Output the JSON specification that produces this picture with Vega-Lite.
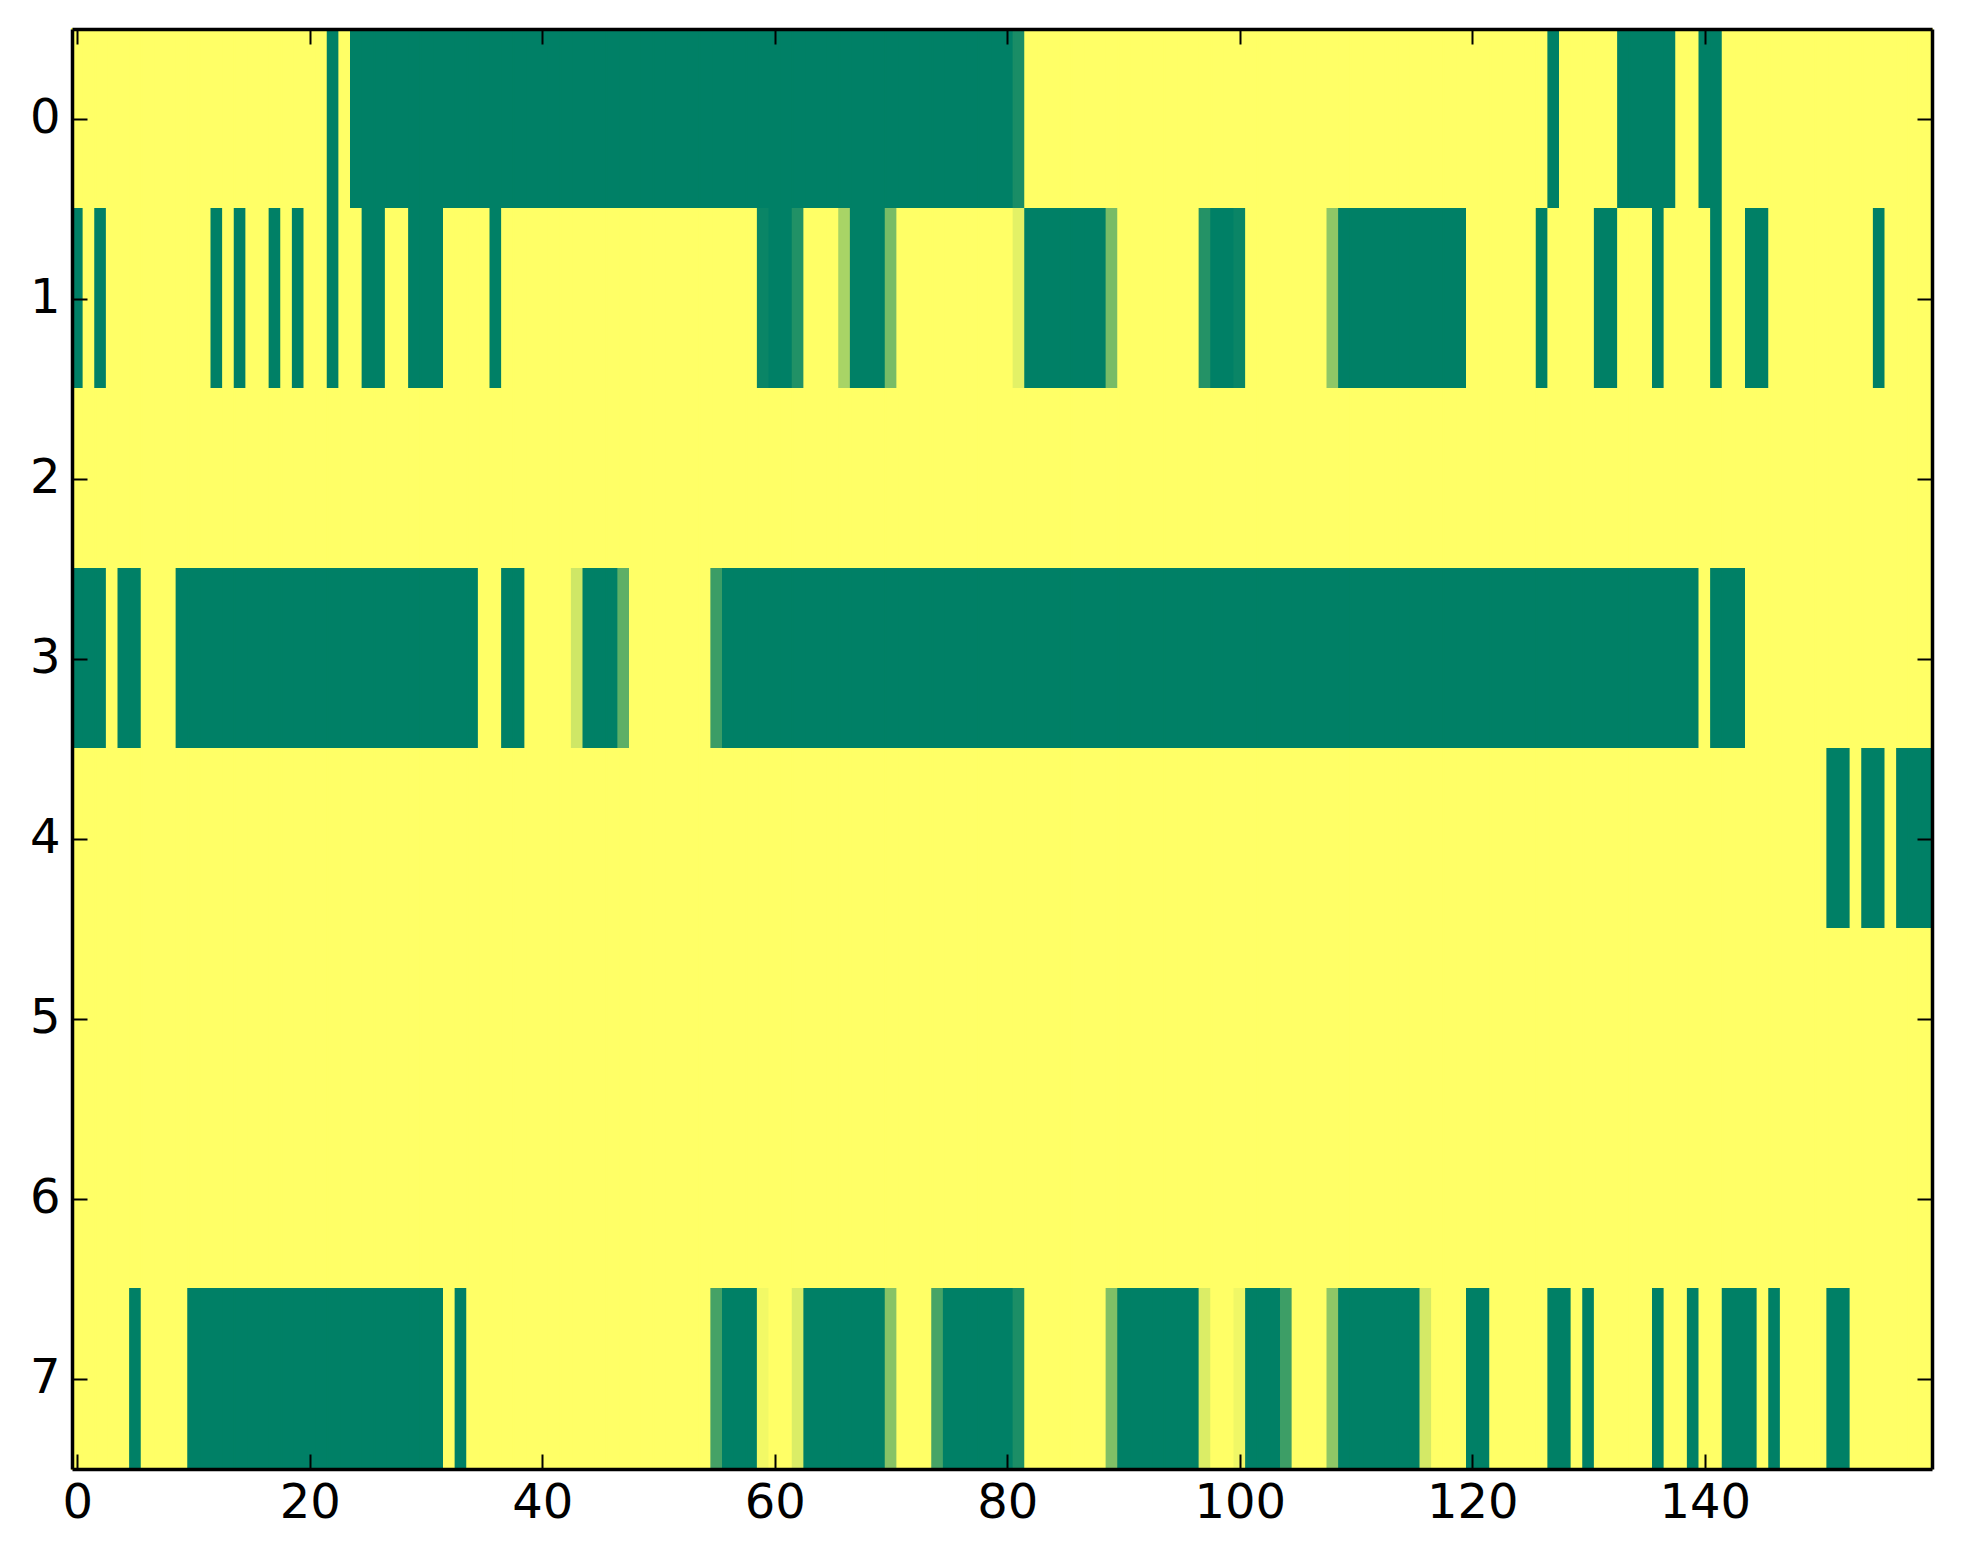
{
"$schema": "https://vega.github.io/schema/vega-lite/v6.json",
"width": 1860,
"height": 1440,
"autosize": {"type": "none"},
"padding": {"left": 72, "top": 29, "right": 31, "bottom": 95},
"background": "white",
"config": {
  "view": {"stroke": null},
  "font": "DejaVu Sans",
  "axis": {
    "title": null, "grid": false,
    "domain": true, "domainColor": "black", "domainWidth": 3.5,
    "ticks": true, "tickColor": "black", "tickWidth": 2, "tickSize": -15,
    "labelFont": "DejaVu Sans", "labelFontSize": 48, "labelColor": "black", "labelAngle": 0
  }
},
"data": {"values": [
{"r":0,"c":0,"v":1},{"r":0,"c":1,"v":1},{"r":0,"c":2,"v":1},{"r":0,"c":3,"v":1},{"r":0,"c":4,"v":1},{"r":0,"c":5,"v":1},{"r":0,"c":6,"v":1},{"r":0,"c":7,"v":1},{"r":0,"c":8,"v":1},{"r":0,"c":9,"v":1},
{"r":0,"c":10,"v":1},{"r":0,"c":11,"v":1},{"r":0,"c":12,"v":1},{"r":0,"c":13,"v":1},{"r":0,"c":14,"v":1},{"r":0,"c":15,"v":1},{"r":0,"c":16,"v":1},{"r":0,"c":17,"v":1},{"r":0,"c":18,"v":1},{"r":0,"c":19,"v":1},
{"r":0,"c":20,"v":1},{"r":0,"c":21,"v":1},{"r":0,"c":22,"v":0},{"r":0,"c":23,"v":1},{"r":0,"c":24,"v":0},{"r":0,"c":25,"v":0},{"r":0,"c":26,"v":0},{"r":0,"c":27,"v":0},{"r":0,"c":28,"v":0},{"r":0,"c":29,"v":0},
{"r":0,"c":30,"v":0},{"r":0,"c":31,"v":0},{"r":0,"c":32,"v":0},{"r":0,"c":33,"v":0},{"r":0,"c":34,"v":0},{"r":0,"c":35,"v":0},{"r":0,"c":36,"v":0},{"r":0,"c":37,"v":0},{"r":0,"c":38,"v":0},{"r":0,"c":39,"v":0},
{"r":0,"c":40,"v":0},{"r":0,"c":41,"v":0},{"r":0,"c":42,"v":0},{"r":0,"c":43,"v":0},{"r":0,"c":44,"v":0},{"r":0,"c":45,"v":0},{"r":0,"c":46,"v":0},{"r":0,"c":47,"v":0},{"r":0,"c":48,"v":0},{"r":0,"c":49,"v":0},
{"r":0,"c":50,"v":0},{"r":0,"c":51,"v":0},{"r":0,"c":52,"v":0},{"r":0,"c":53,"v":0},{"r":0,"c":54,"v":0},{"r":0,"c":55,"v":0},{"r":0,"c":56,"v":0},{"r":0,"c":57,"v":0},{"r":0,"c":58,"v":0},{"r":0,"c":59,"v":0},
{"r":0,"c":60,"v":0},{"r":0,"c":61,"v":0},{"r":0,"c":62,"v":0},{"r":0,"c":63,"v":0},{"r":0,"c":64,"v":0},{"r":0,"c":65,"v":0},{"r":0,"c":66,"v":0},{"r":0,"c":67,"v":0},{"r":0,"c":68,"v":0},{"r":0,"c":69,"v":0},
{"r":0,"c":70,"v":0},{"r":0,"c":71,"v":0},{"r":0,"c":72,"v":0},{"r":0,"c":73,"v":0},{"r":0,"c":74,"v":0},{"r":0,"c":75,"v":0},{"r":0,"c":76,"v":0},{"r":0,"c":77,"v":0},{"r":0,"c":78,"v":0},{"r":0,"c":79,"v":0},
{"r":0,"c":80,"v":0},{"r":0,"c":81,"v":0.1},{"r":0,"c":82,"v":1},{"r":0,"c":83,"v":1},{"r":0,"c":84,"v":1},{"r":0,"c":85,"v":1},{"r":0,"c":86,"v":1},{"r":0,"c":87,"v":1},{"r":0,"c":88,"v":1},{"r":0,"c":89,"v":1},
{"r":0,"c":90,"v":1},{"r":0,"c":91,"v":1},{"r":0,"c":92,"v":1},{"r":0,"c":93,"v":1},{"r":0,"c":94,"v":1},{"r":0,"c":95,"v":1},{"r":0,"c":96,"v":1},{"r":0,"c":97,"v":1},{"r":0,"c":98,"v":1},{"r":0,"c":99,"v":1},
{"r":0,"c":100,"v":1},{"r":0,"c":101,"v":1},{"r":0,"c":102,"v":1},{"r":0,"c":103,"v":1},{"r":0,"c":104,"v":1},{"r":0,"c":105,"v":1},{"r":0,"c":106,"v":1},{"r":0,"c":107,"v":1},{"r":0,"c":108,"v":1},{"r":0,"c":109,"v":1},
{"r":0,"c":110,"v":1},{"r":0,"c":111,"v":1},{"r":0,"c":112,"v":1},{"r":0,"c":113,"v":1},{"r":0,"c":114,"v":1},{"r":0,"c":115,"v":1},{"r":0,"c":116,"v":1},{"r":0,"c":117,"v":1},{"r":0,"c":118,"v":1},{"r":0,"c":119,"v":1},
{"r":0,"c":120,"v":1},{"r":0,"c":121,"v":1},{"r":0,"c":122,"v":1},{"r":0,"c":123,"v":1},{"r":0,"c":124,"v":1},{"r":0,"c":125,"v":1},{"r":0,"c":126,"v":1},{"r":0,"c":127,"v":0},{"r":0,"c":128,"v":1},{"r":0,"c":129,"v":1},
{"r":0,"c":130,"v":1},{"r":0,"c":131,"v":1},{"r":0,"c":132,"v":1},{"r":0,"c":133,"v":0},{"r":0,"c":134,"v":0},{"r":0,"c":135,"v":0},{"r":0,"c":136,"v":0},{"r":0,"c":137,"v":0},{"r":0,"c":138,"v":1},{"r":0,"c":139,"v":1},
{"r":0,"c":140,"v":0},{"r":0,"c":141,"v":0},{"r":0,"c":142,"v":1},{"r":0,"c":143,"v":1},{"r":0,"c":144,"v":1},{"r":0,"c":145,"v":1},{"r":0,"c":146,"v":1},{"r":0,"c":147,"v":1},{"r":0,"c":148,"v":1},{"r":0,"c":149,"v":1},
{"r":0,"c":150,"v":1},{"r":0,"c":151,"v":1},{"r":0,"c":152,"v":1},{"r":0,"c":153,"v":1},{"r":0,"c":154,"v":1},{"r":0,"c":155,"v":1},{"r":0,"c":156,"v":1},{"r":0,"c":157,"v":1},{"r":0,"c":158,"v":1},{"r":0,"c":159,"v":1},
{"r":1,"c":0,"v":0},{"r":1,"c":1,"v":1},{"r":1,"c":2,"v":0},{"r":1,"c":3,"v":1},{"r":1,"c":4,"v":1},{"r":1,"c":5,"v":1},{"r":1,"c":6,"v":1},{"r":1,"c":7,"v":1},{"r":1,"c":8,"v":1},{"r":1,"c":9,"v":1},
{"r":1,"c":10,"v":1},{"r":1,"c":11,"v":1},{"r":1,"c":12,"v":0},{"r":1,"c":13,"v":1},{"r":1,"c":14,"v":0},{"r":1,"c":15,"v":1},{"r":1,"c":16,"v":1},{"r":1,"c":17,"v":0},{"r":1,"c":18,"v":1},{"r":1,"c":19,"v":0},
{"r":1,"c":20,"v":1},{"r":1,"c":21,"v":1},{"r":1,"c":22,"v":0},{"r":1,"c":23,"v":1},{"r":1,"c":24,"v":1},{"r":1,"c":25,"v":0},{"r":1,"c":26,"v":0},{"r":1,"c":27,"v":1},{"r":1,"c":28,"v":1},{"r":1,"c":29,"v":0},
{"r":1,"c":30,"v":0},{"r":1,"c":31,"v":0},{"r":1,"c":32,"v":1},{"r":1,"c":33,"v":1},{"r":1,"c":34,"v":1},{"r":1,"c":35,"v":1},{"r":1,"c":36,"v":0},{"r":1,"c":37,"v":1},{"r":1,"c":38,"v":1},{"r":1,"c":39,"v":1},
{"r":1,"c":40,"v":1},{"r":1,"c":41,"v":1},{"r":1,"c":42,"v":1},{"r":1,"c":43,"v":1},{"r":1,"c":44,"v":1},{"r":1,"c":45,"v":1},{"r":1,"c":46,"v":1},{"r":1,"c":47,"v":1},{"r":1,"c":48,"v":1},{"r":1,"c":49,"v":1},
{"r":1,"c":50,"v":1},{"r":1,"c":51,"v":1},{"r":1,"c":52,"v":1},{"r":1,"c":53,"v":1},{"r":1,"c":54,"v":1},{"r":1,"c":55,"v":1},{"r":1,"c":56,"v":1},{"r":1,"c":57,"v":1},{"r":1,"c":58,"v":1},{"r":1,"c":59,"v":0.04},
{"r":1,"c":60,"v":0},{"r":1,"c":61,"v":0},{"r":1,"c":62,"v":0.13},{"r":1,"c":63,"v":1},{"r":1,"c":64,"v":1},{"r":1,"c":65,"v":1},{"r":1,"c":66,"v":0.66},{"r":1,"c":67,"v":0},{"r":1,"c":68,"v":0},{"r":1,"c":69,"v":0},
{"r":1,"c":70,"v":0.47},{"r":1,"c":71,"v":1},{"r":1,"c":72,"v":1},{"r":1,"c":73,"v":1},{"r":1,"c":74,"v":1},{"r":1,"c":75,"v":1},{"r":1,"c":76,"v":1},{"r":1,"c":77,"v":1},{"r":1,"c":78,"v":1},{"r":1,"c":79,"v":1},
{"r":1,"c":80,"v":1},{"r":1,"c":81,"v":0.89},{"r":1,"c":82,"v":0},{"r":1,"c":83,"v":0},{"r":1,"c":84,"v":0},{"r":1,"c":85,"v":0},{"r":1,"c":86,"v":0},{"r":1,"c":87,"v":0},{"r":1,"c":88,"v":0},{"r":1,"c":89,"v":0.47},
{"r":1,"c":90,"v":1},{"r":1,"c":91,"v":1},{"r":1,"c":92,"v":1},{"r":1,"c":93,"v":1},{"r":1,"c":94,"v":1},{"r":1,"c":95,"v":1},{"r":1,"c":96,"v":1},{"r":1,"c":97,"v":0.14},{"r":1,"c":98,"v":0},{"r":1,"c":99,"v":0},
{"r":1,"c":100,"v":0.04},{"r":1,"c":101,"v":1},{"r":1,"c":102,"v":1},{"r":1,"c":103,"v":1},{"r":1,"c":104,"v":1},{"r":1,"c":105,"v":1},{"r":1,"c":106,"v":1},{"r":1,"c":107,"v":1},{"r":1,"c":108,"v":0.56},{"r":1,"c":109,"v":0},
{"r":1,"c":110,"v":0},{"r":1,"c":111,"v":0},{"r":1,"c":112,"v":0},{"r":1,"c":113,"v":0},{"r":1,"c":114,"v":0},{"r":1,"c":115,"v":0},{"r":1,"c":116,"v":0},{"r":1,"c":117,"v":0},{"r":1,"c":118,"v":0},{"r":1,"c":119,"v":0},
{"r":1,"c":120,"v":1},{"r":1,"c":121,"v":1},{"r":1,"c":122,"v":1},{"r":1,"c":123,"v":1},{"r":1,"c":124,"v":1},{"r":1,"c":125,"v":1},{"r":1,"c":126,"v":0},{"r":1,"c":127,"v":1},{"r":1,"c":128,"v":1},{"r":1,"c":129,"v":1},
{"r":1,"c":130,"v":1},{"r":1,"c":131,"v":0},{"r":1,"c":132,"v":0},{"r":1,"c":133,"v":1},{"r":1,"c":134,"v":1},{"r":1,"c":135,"v":1},{"r":1,"c":136,"v":0},{"r":1,"c":137,"v":1},{"r":1,"c":138,"v":1},{"r":1,"c":139,"v":1},
{"r":1,"c":140,"v":1},{"r":1,"c":141,"v":0},{"r":1,"c":142,"v":1},{"r":1,"c":143,"v":1},{"r":1,"c":144,"v":0},{"r":1,"c":145,"v":0},{"r":1,"c":146,"v":1},{"r":1,"c":147,"v":1},{"r":1,"c":148,"v":1},{"r":1,"c":149,"v":1},
{"r":1,"c":150,"v":1},{"r":1,"c":151,"v":1},{"r":1,"c":152,"v":1},{"r":1,"c":153,"v":1},{"r":1,"c":154,"v":1},{"r":1,"c":155,"v":0},{"r":1,"c":156,"v":1},{"r":1,"c":157,"v":1},{"r":1,"c":158,"v":1},{"r":1,"c":159,"v":1},
{"r":2,"c":0,"v":1},{"r":2,"c":1,"v":1},{"r":2,"c":2,"v":1},{"r":2,"c":3,"v":1},{"r":2,"c":4,"v":1},{"r":2,"c":5,"v":1},{"r":2,"c":6,"v":1},{"r":2,"c":7,"v":1},{"r":2,"c":8,"v":1},{"r":2,"c":9,"v":1},
{"r":2,"c":10,"v":1},{"r":2,"c":11,"v":1},{"r":2,"c":12,"v":1},{"r":2,"c":13,"v":1},{"r":2,"c":14,"v":1},{"r":2,"c":15,"v":1},{"r":2,"c":16,"v":1},{"r":2,"c":17,"v":1},{"r":2,"c":18,"v":1},{"r":2,"c":19,"v":1},
{"r":2,"c":20,"v":1},{"r":2,"c":21,"v":1},{"r":2,"c":22,"v":1},{"r":2,"c":23,"v":1},{"r":2,"c":24,"v":1},{"r":2,"c":25,"v":1},{"r":2,"c":26,"v":1},{"r":2,"c":27,"v":1},{"r":2,"c":28,"v":1},{"r":2,"c":29,"v":1},
{"r":2,"c":30,"v":1},{"r":2,"c":31,"v":1},{"r":2,"c":32,"v":1},{"r":2,"c":33,"v":1},{"r":2,"c":34,"v":1},{"r":2,"c":35,"v":1},{"r":2,"c":36,"v":1},{"r":2,"c":37,"v":1},{"r":2,"c":38,"v":1},{"r":2,"c":39,"v":1},
{"r":2,"c":40,"v":1},{"r":2,"c":41,"v":1},{"r":2,"c":42,"v":1},{"r":2,"c":43,"v":1},{"r":2,"c":44,"v":1},{"r":2,"c":45,"v":1},{"r":2,"c":46,"v":1},{"r":2,"c":47,"v":1},{"r":2,"c":48,"v":1},{"r":2,"c":49,"v":1},
{"r":2,"c":50,"v":1},{"r":2,"c":51,"v":1},{"r":2,"c":52,"v":1},{"r":2,"c":53,"v":1},{"r":2,"c":54,"v":1},{"r":2,"c":55,"v":1},{"r":2,"c":56,"v":1},{"r":2,"c":57,"v":1},{"r":2,"c":58,"v":1},{"r":2,"c":59,"v":1},
{"r":2,"c":60,"v":1},{"r":2,"c":61,"v":1},{"r":2,"c":62,"v":1},{"r":2,"c":63,"v":1},{"r":2,"c":64,"v":1},{"r":2,"c":65,"v":1},{"r":2,"c":66,"v":1},{"r":2,"c":67,"v":1},{"r":2,"c":68,"v":1},{"r":2,"c":69,"v":1},
{"r":2,"c":70,"v":1},{"r":2,"c":71,"v":1},{"r":2,"c":72,"v":1},{"r":2,"c":73,"v":1},{"r":2,"c":74,"v":1},{"r":2,"c":75,"v":1},{"r":2,"c":76,"v":1},{"r":2,"c":77,"v":1},{"r":2,"c":78,"v":1},{"r":2,"c":79,"v":1},
{"r":2,"c":80,"v":1},{"r":2,"c":81,"v":1},{"r":2,"c":82,"v":1},{"r":2,"c":83,"v":1},{"r":2,"c":84,"v":1},{"r":2,"c":85,"v":1},{"r":2,"c":86,"v":1},{"r":2,"c":87,"v":1},{"r":2,"c":88,"v":1},{"r":2,"c":89,"v":1},
{"r":2,"c":90,"v":1},{"r":2,"c":91,"v":1},{"r":2,"c":92,"v":1},{"r":2,"c":93,"v":1},{"r":2,"c":94,"v":1},{"r":2,"c":95,"v":1},{"r":2,"c":96,"v":1},{"r":2,"c":97,"v":1},{"r":2,"c":98,"v":1},{"r":2,"c":99,"v":1},
{"r":2,"c":100,"v":1},{"r":2,"c":101,"v":1},{"r":2,"c":102,"v":1},{"r":2,"c":103,"v":1},{"r":2,"c":104,"v":1},{"r":2,"c":105,"v":1},{"r":2,"c":106,"v":1},{"r":2,"c":107,"v":1},{"r":2,"c":108,"v":1},{"r":2,"c":109,"v":1},
{"r":2,"c":110,"v":1},{"r":2,"c":111,"v":1},{"r":2,"c":112,"v":1},{"r":2,"c":113,"v":1},{"r":2,"c":114,"v":1},{"r":2,"c":115,"v":1},{"r":2,"c":116,"v":1},{"r":2,"c":117,"v":1},{"r":2,"c":118,"v":1},{"r":2,"c":119,"v":1},
{"r":2,"c":120,"v":1},{"r":2,"c":121,"v":1},{"r":2,"c":122,"v":1},{"r":2,"c":123,"v":1},{"r":2,"c":124,"v":1},{"r":2,"c":125,"v":1},{"r":2,"c":126,"v":1},{"r":2,"c":127,"v":1},{"r":2,"c":128,"v":1},{"r":2,"c":129,"v":1},
{"r":2,"c":130,"v":1},{"r":2,"c":131,"v":1},{"r":2,"c":132,"v":1},{"r":2,"c":133,"v":1},{"r":2,"c":134,"v":1},{"r":2,"c":135,"v":1},{"r":2,"c":136,"v":1},{"r":2,"c":137,"v":1},{"r":2,"c":138,"v":1},{"r":2,"c":139,"v":1},
{"r":2,"c":140,"v":1},{"r":2,"c":141,"v":1},{"r":2,"c":142,"v":1},{"r":2,"c":143,"v":1},{"r":2,"c":144,"v":1},{"r":2,"c":145,"v":1},{"r":2,"c":146,"v":1},{"r":2,"c":147,"v":1},{"r":2,"c":148,"v":1},{"r":2,"c":149,"v":1},
{"r":2,"c":150,"v":1},{"r":2,"c":151,"v":1},{"r":2,"c":152,"v":1},{"r":2,"c":153,"v":1},{"r":2,"c":154,"v":1},{"r":2,"c":155,"v":1},{"r":2,"c":156,"v":1},{"r":2,"c":157,"v":1},{"r":2,"c":158,"v":1},{"r":2,"c":159,"v":1},
{"r":3,"c":0,"v":0},{"r":3,"c":1,"v":0},{"r":3,"c":2,"v":0},{"r":3,"c":3,"v":1},{"r":3,"c":4,"v":0},{"r":3,"c":5,"v":0},{"r":3,"c":6,"v":1},{"r":3,"c":7,"v":1},{"r":3,"c":8,"v":1},{"r":3,"c":9,"v":0},
{"r":3,"c":10,"v":0},{"r":3,"c":11,"v":0},{"r":3,"c":12,"v":0},{"r":3,"c":13,"v":0},{"r":3,"c":14,"v":0},{"r":3,"c":15,"v":0},{"r":3,"c":16,"v":0},{"r":3,"c":17,"v":0},{"r":3,"c":18,"v":0},{"r":3,"c":19,"v":0},
{"r":3,"c":20,"v":0},{"r":3,"c":21,"v":0},{"r":3,"c":22,"v":0},{"r":3,"c":23,"v":0},{"r":3,"c":24,"v":0},{"r":3,"c":25,"v":0},{"r":3,"c":26,"v":0},{"r":3,"c":27,"v":0},{"r":3,"c":28,"v":0},{"r":3,"c":29,"v":0},
{"r":3,"c":30,"v":0},{"r":3,"c":31,"v":0},{"r":3,"c":32,"v":0},{"r":3,"c":33,"v":0},{"r":3,"c":34,"v":0},{"r":3,"c":35,"v":1},{"r":3,"c":36,"v":1},{"r":3,"c":37,"v":0},{"r":3,"c":38,"v":0},{"r":3,"c":39,"v":1},
{"r":3,"c":40,"v":1},{"r":3,"c":41,"v":1},{"r":3,"c":42,"v":1},{"r":3,"c":43,"v":0.81},{"r":3,"c":44,"v":0},{"r":3,"c":45,"v":0},{"r":3,"c":46,"v":0},{"r":3,"c":47,"v":0.37},{"r":3,"c":48,"v":1},{"r":3,"c":49,"v":1},
{"r":3,"c":50,"v":1},{"r":3,"c":51,"v":1},{"r":3,"c":52,"v":1},{"r":3,"c":53,"v":1},{"r":3,"c":54,"v":1},{"r":3,"c":55,"v":0.23},{"r":3,"c":56,"v":0},{"r":3,"c":57,"v":0},{"r":3,"c":58,"v":0},{"r":3,"c":59,"v":0},
{"r":3,"c":60,"v":0},{"r":3,"c":61,"v":0},{"r":3,"c":62,"v":0},{"r":3,"c":63,"v":0},{"r":3,"c":64,"v":0},{"r":3,"c":65,"v":0},{"r":3,"c":66,"v":0},{"r":3,"c":67,"v":0},{"r":3,"c":68,"v":0},{"r":3,"c":69,"v":0},
{"r":3,"c":70,"v":0},{"r":3,"c":71,"v":0},{"r":3,"c":72,"v":0},{"r":3,"c":73,"v":0},{"r":3,"c":74,"v":0},{"r":3,"c":75,"v":0},{"r":3,"c":76,"v":0},{"r":3,"c":77,"v":0},{"r":3,"c":78,"v":0},{"r":3,"c":79,"v":0},
{"r":3,"c":80,"v":0},{"r":3,"c":81,"v":0},{"r":3,"c":82,"v":0},{"r":3,"c":83,"v":0},{"r":3,"c":84,"v":0},{"r":3,"c":85,"v":0},{"r":3,"c":86,"v":0},{"r":3,"c":87,"v":0},{"r":3,"c":88,"v":0},{"r":3,"c":89,"v":0},
{"r":3,"c":90,"v":0},{"r":3,"c":91,"v":0},{"r":3,"c":92,"v":0},{"r":3,"c":93,"v":0},{"r":3,"c":94,"v":0},{"r":3,"c":95,"v":0},{"r":3,"c":96,"v":0},{"r":3,"c":97,"v":0},{"r":3,"c":98,"v":0},{"r":3,"c":99,"v":0},
{"r":3,"c":100,"v":0},{"r":3,"c":101,"v":0},{"r":3,"c":102,"v":0},{"r":3,"c":103,"v":0},{"r":3,"c":104,"v":0},{"r":3,"c":105,"v":0},{"r":3,"c":106,"v":0},{"r":3,"c":107,"v":0},{"r":3,"c":108,"v":0},{"r":3,"c":109,"v":0},
{"r":3,"c":110,"v":0},{"r":3,"c":111,"v":0},{"r":3,"c":112,"v":0},{"r":3,"c":113,"v":0},{"r":3,"c":114,"v":0},{"r":3,"c":115,"v":0},{"r":3,"c":116,"v":0},{"r":3,"c":117,"v":0},{"r":3,"c":118,"v":0},{"r":3,"c":119,"v":0},
{"r":3,"c":120,"v":0},{"r":3,"c":121,"v":0},{"r":3,"c":122,"v":0},{"r":3,"c":123,"v":0},{"r":3,"c":124,"v":0},{"r":3,"c":125,"v":0},{"r":3,"c":126,"v":0},{"r":3,"c":127,"v":0},{"r":3,"c":128,"v":0},{"r":3,"c":129,"v":0},
{"r":3,"c":130,"v":0},{"r":3,"c":131,"v":0},{"r":3,"c":132,"v":0},{"r":3,"c":133,"v":0},{"r":3,"c":134,"v":0},{"r":3,"c":135,"v":0},{"r":3,"c":136,"v":0},{"r":3,"c":137,"v":0},{"r":3,"c":138,"v":0},{"r":3,"c":139,"v":0},
{"r":3,"c":140,"v":1},{"r":3,"c":141,"v":0},{"r":3,"c":142,"v":0},{"r":3,"c":143,"v":0},{"r":3,"c":144,"v":1},{"r":3,"c":145,"v":1},{"r":3,"c":146,"v":1},{"r":3,"c":147,"v":1},{"r":3,"c":148,"v":1},{"r":3,"c":149,"v":1},
{"r":3,"c":150,"v":1},{"r":3,"c":151,"v":1},{"r":3,"c":152,"v":1},{"r":3,"c":153,"v":1},{"r":3,"c":154,"v":1},{"r":3,"c":155,"v":1},{"r":3,"c":156,"v":1},{"r":3,"c":157,"v":1},{"r":3,"c":158,"v":1},{"r":3,"c":159,"v":1},
{"r":4,"c":0,"v":1},{"r":4,"c":1,"v":1},{"r":4,"c":2,"v":1},{"r":4,"c":3,"v":1},{"r":4,"c":4,"v":1},{"r":4,"c":5,"v":1},{"r":4,"c":6,"v":1},{"r":4,"c":7,"v":1},{"r":4,"c":8,"v":1},{"r":4,"c":9,"v":1},
{"r":4,"c":10,"v":1},{"r":4,"c":11,"v":1},{"r":4,"c":12,"v":1},{"r":4,"c":13,"v":1},{"r":4,"c":14,"v":1},{"r":4,"c":15,"v":1},{"r":4,"c":16,"v":1},{"r":4,"c":17,"v":1},{"r":4,"c":18,"v":1},{"r":4,"c":19,"v":1},
{"r":4,"c":20,"v":1},{"r":4,"c":21,"v":1},{"r":4,"c":22,"v":1},{"r":4,"c":23,"v":1},{"r":4,"c":24,"v":1},{"r":4,"c":25,"v":1},{"r":4,"c":26,"v":1},{"r":4,"c":27,"v":1},{"r":4,"c":28,"v":1},{"r":4,"c":29,"v":1},
{"r":4,"c":30,"v":1},{"r":4,"c":31,"v":1},{"r":4,"c":32,"v":1},{"r":4,"c":33,"v":1},{"r":4,"c":34,"v":1},{"r":4,"c":35,"v":1},{"r":4,"c":36,"v":1},{"r":4,"c":37,"v":1},{"r":4,"c":38,"v":1},{"r":4,"c":39,"v":1},
{"r":4,"c":40,"v":1},{"r":4,"c":41,"v":1},{"r":4,"c":42,"v":1},{"r":4,"c":43,"v":1},{"r":4,"c":44,"v":1},{"r":4,"c":45,"v":1},{"r":4,"c":46,"v":1},{"r":4,"c":47,"v":1},{"r":4,"c":48,"v":1},{"r":4,"c":49,"v":1},
{"r":4,"c":50,"v":1},{"r":4,"c":51,"v":1},{"r":4,"c":52,"v":1},{"r":4,"c":53,"v":1},{"r":4,"c":54,"v":1},{"r":4,"c":55,"v":1},{"r":4,"c":56,"v":1},{"r":4,"c":57,"v":1},{"r":4,"c":58,"v":1},{"r":4,"c":59,"v":1},
{"r":4,"c":60,"v":1},{"r":4,"c":61,"v":1},{"r":4,"c":62,"v":1},{"r":4,"c":63,"v":1},{"r":4,"c":64,"v":1},{"r":4,"c":65,"v":1},{"r":4,"c":66,"v":1},{"r":4,"c":67,"v":1},{"r":4,"c":68,"v":1},{"r":4,"c":69,"v":1},
{"r":4,"c":70,"v":1},{"r":4,"c":71,"v":1},{"r":4,"c":72,"v":1},{"r":4,"c":73,"v":1},{"r":4,"c":74,"v":1},{"r":4,"c":75,"v":1},{"r":4,"c":76,"v":1},{"r":4,"c":77,"v":1},{"r":4,"c":78,"v":1},{"r":4,"c":79,"v":1},
{"r":4,"c":80,"v":1},{"r":4,"c":81,"v":1},{"r":4,"c":82,"v":1},{"r":4,"c":83,"v":1},{"r":4,"c":84,"v":1},{"r":4,"c":85,"v":1},{"r":4,"c":86,"v":1},{"r":4,"c":87,"v":1},{"r":4,"c":88,"v":1},{"r":4,"c":89,"v":1},
{"r":4,"c":90,"v":1},{"r":4,"c":91,"v":1},{"r":4,"c":92,"v":1},{"r":4,"c":93,"v":1},{"r":4,"c":94,"v":1},{"r":4,"c":95,"v":1},{"r":4,"c":96,"v":1},{"r":4,"c":97,"v":1},{"r":4,"c":98,"v":1},{"r":4,"c":99,"v":1},
{"r":4,"c":100,"v":1},{"r":4,"c":101,"v":1},{"r":4,"c":102,"v":1},{"r":4,"c":103,"v":1},{"r":4,"c":104,"v":1},{"r":4,"c":105,"v":1},{"r":4,"c":106,"v":1},{"r":4,"c":107,"v":1},{"r":4,"c":108,"v":1},{"r":4,"c":109,"v":1},
{"r":4,"c":110,"v":1},{"r":4,"c":111,"v":1},{"r":4,"c":112,"v":1},{"r":4,"c":113,"v":1},{"r":4,"c":114,"v":1},{"r":4,"c":115,"v":1},{"r":4,"c":116,"v":1},{"r":4,"c":117,"v":1},{"r":4,"c":118,"v":1},{"r":4,"c":119,"v":1},
{"r":4,"c":120,"v":1},{"r":4,"c":121,"v":1},{"r":4,"c":122,"v":1},{"r":4,"c":123,"v":1},{"r":4,"c":124,"v":1},{"r":4,"c":125,"v":1},{"r":4,"c":126,"v":1},{"r":4,"c":127,"v":1},{"r":4,"c":128,"v":1},{"r":4,"c":129,"v":1},
{"r":4,"c":130,"v":1},{"r":4,"c":131,"v":1},{"r":4,"c":132,"v":1},{"r":4,"c":133,"v":1},{"r":4,"c":134,"v":1},{"r":4,"c":135,"v":1},{"r":4,"c":136,"v":1},{"r":4,"c":137,"v":1},{"r":4,"c":138,"v":1},{"r":4,"c":139,"v":1},
{"r":4,"c":140,"v":1},{"r":4,"c":141,"v":1},{"r":4,"c":142,"v":1},{"r":4,"c":143,"v":1},{"r":4,"c":144,"v":1},{"r":4,"c":145,"v":1},{"r":4,"c":146,"v":1},{"r":4,"c":147,"v":1},{"r":4,"c":148,"v":1},{"r":4,"c":149,"v":1},
{"r":4,"c":150,"v":1},{"r":4,"c":151,"v":0},{"r":4,"c":152,"v":0},{"r":4,"c":153,"v":1},{"r":4,"c":154,"v":0},{"r":4,"c":155,"v":0},{"r":4,"c":156,"v":1},{"r":4,"c":157,"v":0},{"r":4,"c":158,"v":0},{"r":4,"c":159,"v":0},
{"r":5,"c":0,"v":1},{"r":5,"c":1,"v":1},{"r":5,"c":2,"v":1},{"r":5,"c":3,"v":1},{"r":5,"c":4,"v":1},{"r":5,"c":5,"v":1},{"r":5,"c":6,"v":1},{"r":5,"c":7,"v":1},{"r":5,"c":8,"v":1},{"r":5,"c":9,"v":1},
{"r":5,"c":10,"v":1},{"r":5,"c":11,"v":1},{"r":5,"c":12,"v":1},{"r":5,"c":13,"v":1},{"r":5,"c":14,"v":1},{"r":5,"c":15,"v":1},{"r":5,"c":16,"v":1},{"r":5,"c":17,"v":1},{"r":5,"c":18,"v":1},{"r":5,"c":19,"v":1},
{"r":5,"c":20,"v":1},{"r":5,"c":21,"v":1},{"r":5,"c":22,"v":1},{"r":5,"c":23,"v":1},{"r":5,"c":24,"v":1},{"r":5,"c":25,"v":1},{"r":5,"c":26,"v":1},{"r":5,"c":27,"v":1},{"r":5,"c":28,"v":1},{"r":5,"c":29,"v":1},
{"r":5,"c":30,"v":1},{"r":5,"c":31,"v":1},{"r":5,"c":32,"v":1},{"r":5,"c":33,"v":1},{"r":5,"c":34,"v":1},{"r":5,"c":35,"v":1},{"r":5,"c":36,"v":1},{"r":5,"c":37,"v":1},{"r":5,"c":38,"v":1},{"r":5,"c":39,"v":1},
{"r":5,"c":40,"v":1},{"r":5,"c":41,"v":1},{"r":5,"c":42,"v":1},{"r":5,"c":43,"v":1},{"r":5,"c":44,"v":1},{"r":5,"c":45,"v":1},{"r":5,"c":46,"v":1},{"r":5,"c":47,"v":1},{"r":5,"c":48,"v":1},{"r":5,"c":49,"v":1},
{"r":5,"c":50,"v":1},{"r":5,"c":51,"v":1},{"r":5,"c":52,"v":1},{"r":5,"c":53,"v":1},{"r":5,"c":54,"v":1},{"r":5,"c":55,"v":1},{"r":5,"c":56,"v":1},{"r":5,"c":57,"v":1},{"r":5,"c":58,"v":1},{"r":5,"c":59,"v":1},
{"r":5,"c":60,"v":1},{"r":5,"c":61,"v":1},{"r":5,"c":62,"v":1},{"r":5,"c":63,"v":1},{"r":5,"c":64,"v":1},{"r":5,"c":65,"v":1},{"r":5,"c":66,"v":1},{"r":5,"c":67,"v":1},{"r":5,"c":68,"v":1},{"r":5,"c":69,"v":1},
{"r":5,"c":70,"v":1},{"r":5,"c":71,"v":1},{"r":5,"c":72,"v":1},{"r":5,"c":73,"v":1},{"r":5,"c":74,"v":1},{"r":5,"c":75,"v":1},{"r":5,"c":76,"v":1},{"r":5,"c":77,"v":1},{"r":5,"c":78,"v":1},{"r":5,"c":79,"v":1},
{"r":5,"c":80,"v":1},{"r":5,"c":81,"v":1},{"r":5,"c":82,"v":1},{"r":5,"c":83,"v":1},{"r":5,"c":84,"v":1},{"r":5,"c":85,"v":1},{"r":5,"c":86,"v":1},{"r":5,"c":87,"v":1},{"r":5,"c":88,"v":1},{"r":5,"c":89,"v":1},
{"r":5,"c":90,"v":1},{"r":5,"c":91,"v":1},{"r":5,"c":92,"v":1},{"r":5,"c":93,"v":1},{"r":5,"c":94,"v":1},{"r":5,"c":95,"v":1},{"r":5,"c":96,"v":1},{"r":5,"c":97,"v":1},{"r":5,"c":98,"v":1},{"r":5,"c":99,"v":1},
{"r":5,"c":100,"v":1},{"r":5,"c":101,"v":1},{"r":5,"c":102,"v":1},{"r":5,"c":103,"v":1},{"r":5,"c":104,"v":1},{"r":5,"c":105,"v":1},{"r":5,"c":106,"v":1},{"r":5,"c":107,"v":1},{"r":5,"c":108,"v":1},{"r":5,"c":109,"v":1},
{"r":5,"c":110,"v":1},{"r":5,"c":111,"v":1},{"r":5,"c":112,"v":1},{"r":5,"c":113,"v":1},{"r":5,"c":114,"v":1},{"r":5,"c":115,"v":1},{"r":5,"c":116,"v":1},{"r":5,"c":117,"v":1},{"r":5,"c":118,"v":1},{"r":5,"c":119,"v":1},
{"r":5,"c":120,"v":1},{"r":5,"c":121,"v":1},{"r":5,"c":122,"v":1},{"r":5,"c":123,"v":1},{"r":5,"c":124,"v":1},{"r":5,"c":125,"v":1},{"r":5,"c":126,"v":1},{"r":5,"c":127,"v":1},{"r":5,"c":128,"v":1},{"r":5,"c":129,"v":1},
{"r":5,"c":130,"v":1},{"r":5,"c":131,"v":1},{"r":5,"c":132,"v":1},{"r":5,"c":133,"v":1},{"r":5,"c":134,"v":1},{"r":5,"c":135,"v":1},{"r":5,"c":136,"v":1},{"r":5,"c":137,"v":1},{"r":5,"c":138,"v":1},{"r":5,"c":139,"v":1},
{"r":5,"c":140,"v":1},{"r":5,"c":141,"v":1},{"r":5,"c":142,"v":1},{"r":5,"c":143,"v":1},{"r":5,"c":144,"v":1},{"r":5,"c":145,"v":1},{"r":5,"c":146,"v":1},{"r":5,"c":147,"v":1},{"r":5,"c":148,"v":1},{"r":5,"c":149,"v":1},
{"r":5,"c":150,"v":1},{"r":5,"c":151,"v":1},{"r":5,"c":152,"v":1},{"r":5,"c":153,"v":1},{"r":5,"c":154,"v":1},{"r":5,"c":155,"v":1},{"r":5,"c":156,"v":1},{"r":5,"c":157,"v":1},{"r":5,"c":158,"v":1},{"r":5,"c":159,"v":1},
{"r":6,"c":0,"v":1},{"r":6,"c":1,"v":1},{"r":6,"c":2,"v":1},{"r":6,"c":3,"v":1},{"r":6,"c":4,"v":1},{"r":6,"c":5,"v":1},{"r":6,"c":6,"v":1},{"r":6,"c":7,"v":1},{"r":6,"c":8,"v":1},{"r":6,"c":9,"v":1},
{"r":6,"c":10,"v":1},{"r":6,"c":11,"v":1},{"r":6,"c":12,"v":1},{"r":6,"c":13,"v":1},{"r":6,"c":14,"v":1},{"r":6,"c":15,"v":1},{"r":6,"c":16,"v":1},{"r":6,"c":17,"v":1},{"r":6,"c":18,"v":1},{"r":6,"c":19,"v":1},
{"r":6,"c":20,"v":1},{"r":6,"c":21,"v":1},{"r":6,"c":22,"v":1},{"r":6,"c":23,"v":1},{"r":6,"c":24,"v":1},{"r":6,"c":25,"v":1},{"r":6,"c":26,"v":1},{"r":6,"c":27,"v":1},{"r":6,"c":28,"v":1},{"r":6,"c":29,"v":1},
{"r":6,"c":30,"v":1},{"r":6,"c":31,"v":1},{"r":6,"c":32,"v":1},{"r":6,"c":33,"v":1},{"r":6,"c":34,"v":1},{"r":6,"c":35,"v":1},{"r":6,"c":36,"v":1},{"r":6,"c":37,"v":1},{"r":6,"c":38,"v":1},{"r":6,"c":39,"v":1},
{"r":6,"c":40,"v":1},{"r":6,"c":41,"v":1},{"r":6,"c":42,"v":1},{"r":6,"c":43,"v":1},{"r":6,"c":44,"v":1},{"r":6,"c":45,"v":1},{"r":6,"c":46,"v":1},{"r":6,"c":47,"v":1},{"r":6,"c":48,"v":1},{"r":6,"c":49,"v":1},
{"r":6,"c":50,"v":1},{"r":6,"c":51,"v":1},{"r":6,"c":52,"v":1},{"r":6,"c":53,"v":1},{"r":6,"c":54,"v":1},{"r":6,"c":55,"v":1},{"r":6,"c":56,"v":1},{"r":6,"c":57,"v":1},{"r":6,"c":58,"v":1},{"r":6,"c":59,"v":1},
{"r":6,"c":60,"v":1},{"r":6,"c":61,"v":1},{"r":6,"c":62,"v":1},{"r":6,"c":63,"v":1},{"r":6,"c":64,"v":1},{"r":6,"c":65,"v":1},{"r":6,"c":66,"v":1},{"r":6,"c":67,"v":1},{"r":6,"c":68,"v":1},{"r":6,"c":69,"v":1},
{"r":6,"c":70,"v":1},{"r":6,"c":71,"v":1},{"r":6,"c":72,"v":1},{"r":6,"c":73,"v":1},{"r":6,"c":74,"v":1},{"r":6,"c":75,"v":1},{"r":6,"c":76,"v":1},{"r":6,"c":77,"v":1},{"r":6,"c":78,"v":1},{"r":6,"c":79,"v":1},
{"r":6,"c":80,"v":1},{"r":6,"c":81,"v":1},{"r":6,"c":82,"v":1},{"r":6,"c":83,"v":1},{"r":6,"c":84,"v":1},{"r":6,"c":85,"v":1},{"r":6,"c":86,"v":1},{"r":6,"c":87,"v":1},{"r":6,"c":88,"v":1},{"r":6,"c":89,"v":1},
{"r":6,"c":90,"v":1},{"r":6,"c":91,"v":1},{"r":6,"c":92,"v":1},{"r":6,"c":93,"v":1},{"r":6,"c":94,"v":1},{"r":6,"c":95,"v":1},{"r":6,"c":96,"v":1},{"r":6,"c":97,"v":1},{"r":6,"c":98,"v":1},{"r":6,"c":99,"v":1},
{"r":6,"c":100,"v":1},{"r":6,"c":101,"v":1},{"r":6,"c":102,"v":1},{"r":6,"c":103,"v":1},{"r":6,"c":104,"v":1},{"r":6,"c":105,"v":1},{"r":6,"c":106,"v":1},{"r":6,"c":107,"v":1},{"r":6,"c":108,"v":1},{"r":6,"c":109,"v":1},
{"r":6,"c":110,"v":1},{"r":6,"c":111,"v":1},{"r":6,"c":112,"v":1},{"r":6,"c":113,"v":1},{"r":6,"c":114,"v":1},{"r":6,"c":115,"v":1},{"r":6,"c":116,"v":1},{"r":6,"c":117,"v":1},{"r":6,"c":118,"v":1},{"r":6,"c":119,"v":1},
{"r":6,"c":120,"v":1},{"r":6,"c":121,"v":1},{"r":6,"c":122,"v":1},{"r":6,"c":123,"v":1},{"r":6,"c":124,"v":1},{"r":6,"c":125,"v":1},{"r":6,"c":126,"v":1},{"r":6,"c":127,"v":1},{"r":6,"c":128,"v":1},{"r":6,"c":129,"v":1},
{"r":6,"c":130,"v":1},{"r":6,"c":131,"v":1},{"r":6,"c":132,"v":1},{"r":6,"c":133,"v":1},{"r":6,"c":134,"v":1},{"r":6,"c":135,"v":1},{"r":6,"c":136,"v":1},{"r":6,"c":137,"v":1},{"r":6,"c":138,"v":1},{"r":6,"c":139,"v":1},
{"r":6,"c":140,"v":1},{"r":6,"c":141,"v":1},{"r":6,"c":142,"v":1},{"r":6,"c":143,"v":1},{"r":6,"c":144,"v":1},{"r":6,"c":145,"v":1},{"r":6,"c":146,"v":1},{"r":6,"c":147,"v":1},{"r":6,"c":148,"v":1},{"r":6,"c":149,"v":1},
{"r":6,"c":150,"v":1},{"r":6,"c":151,"v":1},{"r":6,"c":152,"v":1},{"r":6,"c":153,"v":1},{"r":6,"c":154,"v":1},{"r":6,"c":155,"v":1},{"r":6,"c":156,"v":1},{"r":6,"c":157,"v":1},{"r":6,"c":158,"v":1},{"r":6,"c":159,"v":1},
{"r":7,"c":0,"v":1},{"r":7,"c":1,"v":1},{"r":7,"c":2,"v":1},{"r":7,"c":3,"v":1},{"r":7,"c":4,"v":1},{"r":7,"c":5,"v":0},{"r":7,"c":6,"v":1},{"r":7,"c":7,"v":1},{"r":7,"c":8,"v":1},{"r":7,"c":9,"v":1},
{"r":7,"c":10,"v":0},{"r":7,"c":11,"v":0},{"r":7,"c":12,"v":0},{"r":7,"c":13,"v":0},{"r":7,"c":14,"v":0},{"r":7,"c":15,"v":0},{"r":7,"c":16,"v":0},{"r":7,"c":17,"v":0},{"r":7,"c":18,"v":0},{"r":7,"c":19,"v":0},
{"r":7,"c":20,"v":0},{"r":7,"c":21,"v":0},{"r":7,"c":22,"v":0},{"r":7,"c":23,"v":0},{"r":7,"c":24,"v":0},{"r":7,"c":25,"v":0},{"r":7,"c":26,"v":0},{"r":7,"c":27,"v":0},{"r":7,"c":28,"v":0},{"r":7,"c":29,"v":0},
{"r":7,"c":30,"v":0},{"r":7,"c":31,"v":0},{"r":7,"c":32,"v":1},{"r":7,"c":33,"v":0},{"r":7,"c":34,"v":1},{"r":7,"c":35,"v":1},{"r":7,"c":36,"v":1},{"r":7,"c":37,"v":1},{"r":7,"c":38,"v":1},{"r":7,"c":39,"v":1},
{"r":7,"c":40,"v":1},{"r":7,"c":41,"v":1},{"r":7,"c":42,"v":1},{"r":7,"c":43,"v":1},{"r":7,"c":44,"v":1},{"r":7,"c":45,"v":1},{"r":7,"c":46,"v":1},{"r":7,"c":47,"v":1},{"r":7,"c":48,"v":1},{"r":7,"c":49,"v":1},
{"r":7,"c":50,"v":1},{"r":7,"c":51,"v":1},{"r":7,"c":52,"v":1},{"r":7,"c":53,"v":1},{"r":7,"c":54,"v":1},{"r":7,"c":55,"v":0.27},{"r":7,"c":56,"v":0},{"r":7,"c":57,"v":0},{"r":7,"c":58,"v":0},{"r":7,"c":59,"v":0.95},
{"r":7,"c":60,"v":1},{"r":7,"c":61,"v":1},{"r":7,"c":62,"v":0.86},{"r":7,"c":63,"v":0},{"r":7,"c":64,"v":0},{"r":7,"c":65,"v":0},{"r":7,"c":66,"v":0},{"r":7,"c":67,"v":0},{"r":7,"c":68,"v":0},{"r":7,"c":69,"v":0},
{"r":7,"c":70,"v":0.53},{"r":7,"c":71,"v":1},{"r":7,"c":72,"v":1},{"r":7,"c":73,"v":1},{"r":7,"c":74,"v":0.28},{"r":7,"c":75,"v":0},{"r":7,"c":76,"v":0},{"r":7,"c":77,"v":0},{"r":7,"c":78,"v":0},{"r":7,"c":79,"v":0},
{"r":7,"c":80,"v":0},{"r":7,"c":81,"v":0.11},{"r":7,"c":82,"v":1},{"r":7,"c":83,"v":1},{"r":7,"c":84,"v":1},{"r":7,"c":85,"v":1},{"r":7,"c":86,"v":1},{"r":7,"c":87,"v":1},{"r":7,"c":88,"v":1},{"r":7,"c":89,"v":0.5},
{"r":7,"c":90,"v":0},{"r":7,"c":91,"v":0},{"r":7,"c":92,"v":0},{"r":7,"c":93,"v":0},{"r":7,"c":94,"v":0},{"r":7,"c":95,"v":0},{"r":7,"c":96,"v":0},{"r":7,"c":97,"v":0.86},{"r":7,"c":98,"v":1},{"r":7,"c":99,"v":1},
{"r":7,"c":100,"v":0.94},{"r":7,"c":101,"v":0},{"r":7,"c":102,"v":0},{"r":7,"c":103,"v":0},{"r":7,"c":104,"v":0.24},{"r":7,"c":105,"v":1},{"r":7,"c":106,"v":1},{"r":7,"c":107,"v":1},{"r":7,"c":108,"v":0.56},{"r":7,"c":109,"v":0},
{"r":7,"c":110,"v":0},{"r":7,"c":111,"v":0},{"r":7,"c":112,"v":0},{"r":7,"c":113,"v":0},{"r":7,"c":114,"v":0},{"r":7,"c":115,"v":0},{"r":7,"c":116,"v":0.83},{"r":7,"c":117,"v":1},{"r":7,"c":118,"v":1},{"r":7,"c":119,"v":1},
{"r":7,"c":120,"v":0},{"r":7,"c":121,"v":0},{"r":7,"c":122,"v":1},{"r":7,"c":123,"v":1},{"r":7,"c":124,"v":1},{"r":7,"c":125,"v":1},{"r":7,"c":126,"v":1},{"r":7,"c":127,"v":0},{"r":7,"c":128,"v":0},{"r":7,"c":129,"v":1},
{"r":7,"c":130,"v":0},{"r":7,"c":131,"v":1},{"r":7,"c":132,"v":1},{"r":7,"c":133,"v":1},{"r":7,"c":134,"v":1},{"r":7,"c":135,"v":1},{"r":7,"c":136,"v":0},{"r":7,"c":137,"v":1},{"r":7,"c":138,"v":1},{"r":7,"c":139,"v":0},
{"r":7,"c":140,"v":1},{"r":7,"c":141,"v":1},{"r":7,"c":142,"v":0},{"r":7,"c":143,"v":0},{"r":7,"c":144,"v":0},{"r":7,"c":145,"v":1},{"r":7,"c":146,"v":0},{"r":7,"c":147,"v":1},{"r":7,"c":148,"v":1},{"r":7,"c":149,"v":1},
{"r":7,"c":150,"v":1},{"r":7,"c":151,"v":0},{"r":7,"c":152,"v":0},{"r":7,"c":153,"v":1},{"r":7,"c":154,"v":1},{"r":7,"c":155,"v":1},{"r":7,"c":156,"v":1},{"r":7,"c":157,"v":1},{"r":7,"c":158,"v":1},{"r":7,"c":159,"v":1}
]},
"layer": [
  {
    "mark": {"type": "rect", "strokeWidth": 2},
    "encoding": {
      "x": {"field": "c", "type": "ordinal", "scale": {"paddingInner": 0, "paddingOuter": 0},
            "axis": {"orient": "bottom", "zindex": 1, "values": [0, 20, 40, 60, 80, 100, 120, 140], "labelPadding": 25}},
      "y": {"field": "r", "type": "ordinal", "scale": {"paddingInner": 0, "paddingOuter": 0},
            "axis": {"orient": "left", "zindex": 1, "labelPadding": 27}},
      "color": {"field": "v", "type": "quantitative", "legend": null,
                "scale": {"domain": [0, 1], "range": ["#008066", "#ffff66"], "interpolate": "rgb"}},
      "stroke": {"field": "v", "type": "quantitative", "legend": null,
                "scale": {"domain": [0, 1], "range": ["#008066", "#ffff66"], "interpolate": "rgb"}}
    }
  },
  {
    "mark": {"type": "rect", "opacity": 0},
    "encoding": {
      "x": {"field": "c", "type": "ordinal",
            "axis": {"orient": "top", "zindex": 1, "values": [0, 20, 40, 60, 80, 100, 120, 140], "labels": false}},
      "y": {"field": "r", "type": "ordinal",
            "axis": {"orient": "right", "zindex": 1, "labels": false}}
    }
  }
],
"resolve": {"axis": {"x": "independent", "y": "independent"}}
}
